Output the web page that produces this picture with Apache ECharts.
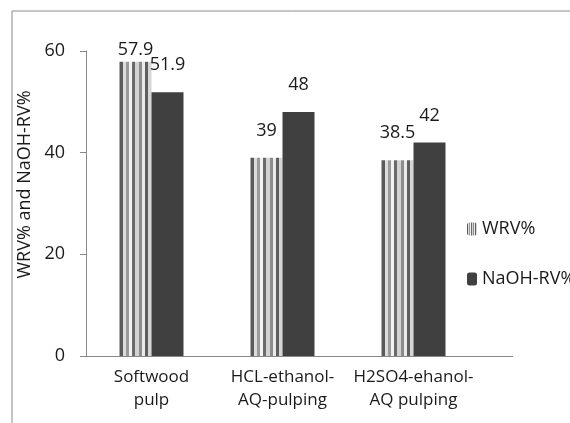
<!DOCTYPE html>
<html>
<head>
<meta charset="utf-8">
<script src="https://cdn.jsdelivr.net/npm/echarts@6/dist/echarts.min.js"></script>
<style>
  html, body { margin: 0; padding: 0; background: #fff; }
  #chart { width: 570px; height: 423px; }
</style>
</head>
<body>
<div id="chart"></div>
<script>
const categories = ['Softwood\npulp', 'HCL-ethanol-\nAQ-pulping', 'H2SO4-ehanol-\nAQ pulping']
const wrv = [57.9, 39, 38.5]
const naohRv = [51.9, 48, 42]
const yTicks = [0, 20, 40, 60]

const font = '"Open Sans", "Liberation Sans", sans-serif'
const textColor = '#1a1a1a'

// vertical stripes like the excel pattern fill
const stripeColors = ['#5a5a5a', '#dcdcdc', '#9a9a9a', '#f2f2f2', '#6a6a6a', '#d2d2d2', '#8c8c8c', '#eaeaea', '#5e5e5e', '#d6d6d6']
const stripeStops = []
stripeColors.forEach((c, i) => {
  stripeStops.push({ offset: i / stripeColors.length, color: c })
  stripeStops.push({ offset: (i + 1) / stripeColors.length - 0.0001, color: c })
})
const stripes = new echarts.graphic.LinearGradient(0, 0, 1, 0, stripeStops)

// excel keeps the labels inside the plot area, so the tallest one sits lower
function withLabels(values) {
  return values.map(v => ({
    value: v,
    label: { distance: v > 55 ? 3 : 18 }
  }))
}

const frame = {
  type: 'rect',
  shape: { x: 12, y: 11, width: 600, height: 450 },
  style: { fill: 'none', stroke: '#8a8a8a', lineWidth: 1 },
  silent: true
}

const chart = echarts.init(document.getElementById('chart'))
chart.setOption({
  animation: false,
  backgroundColor: '#fff',
  textStyle: { fontFamily: font },
  graphic: [frame],
  grid: {
    left: 86,
    right: 91,
    top: 51,
    bottom: 423 - 356
  },
  legend: {
    orient: 'vertical',
    left: 462,
    top: 215,
    itemWidth: 10,
    itemHeight: 13,
    itemGap: 32,
    textStyle: { fontFamily: font, fontSize: 18, color: textColor },
    data: ['WRV%', 'NaOH-RV%']
  },
  xAxis: {
    type: 'category',
    data: categories,
    axisLine: { lineStyle: { color: '#888' } },
    axisTick: { show: false },
    axisLabel: {
      color: textColor,
      fontFamily: font,
      fontSize: 17,
      lineHeight: 23,
      margin: 10,
      interval: 0
    }
  },
  yAxis: {
    type: 'value',
    min: yTicks[0],
    max: yTicks[yTicks.length - 1],
    interval: 20,
    name: 'WRV% and NaOH-RV%',
    nameLocation: 'middle',
    nameGap: 43,
    nameTextStyle: { color: textColor, fontFamily: font, fontSize: 18, padding: [0, 0, 0, 38] },
    axisLine: { show: true, lineStyle: { color: '#888' } },
    axisTick: { show: true, inside: false, length: 6, lineStyle: { color: '#888' } },
    axisLabel: { color: textColor, fontFamily: font, fontSize: 18, margin: 21 },
    splitLine: { show: false }
  },
  series: [
    {
      name: 'WRV%',
      type: 'bar',
      data: withLabels(wrv),
      barWidth: 32,
      barGap: '0%',
      itemStyle: { color: stripes },
      label: {
        show: true,
        position: 'top',
        color: textColor,
        fontFamily: font,
        fontSize: 18
      }
    },
    {
      name: 'NaOH-RV%',
      type: 'bar',
      data: withLabels(naohRv),
      barWidth: 32,
      itemStyle: { color: '#404040' },
      label: {
        show: true,
        position: 'top',
        color: textColor,
        fontFamily: font,
        fontSize: 18
      }
    }
  ]
})

// the excel plot area runs on past the legend, stretch the baseline
const baseY = Math.round(chart.convertToPixel({ yAxisIndex: 0 }, 0)) + 0.5
chart.setOption({
  graphic: [frame, {
    type: 'line',
    shape: { x1: 570 - 91, y1: baseY, x2: 513, y2: baseY },
    style: { stroke: '#888', lineWidth: 1 },
    silent: true
  }]
})
</script>
</body>
</html>
